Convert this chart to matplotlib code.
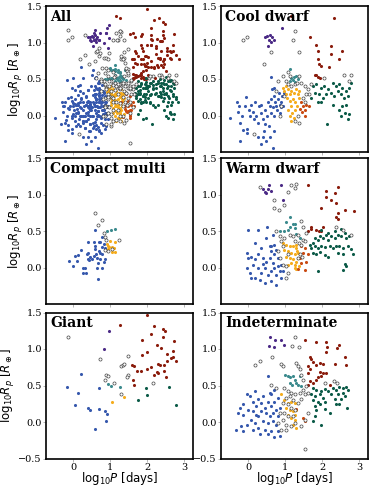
import numpy as np
import matplotlib
matplotlib.use('Agg')
import matplotlib.pyplot as plt

# colours of the classes
c_blue = '#3658ad'
c_orange = '#f5ac1c'
c_teal = '#3b8a8d'
c_green = '#0c5b48'
c_red = '#8a1c0c'
c_purple = '#4b2a86'
c_rust = '#c94a12'

# ---- Cool dwarf ----
cool_blue = [(-0.49, -0.03), (-0.29, 0.18), (-0.25, 0.13), (-0.27, 0.05), (-0.22, -0.10), (-0.16, -0.01),
             (-0.22, -0.35), (-0.13, -0.20), (-0.09, 0.13), (-0.06, 0.26), (-0.04, -0.24), (-0.02, -0.18),
             (0.02, 0.08), (0.04, -0.01), (0.09, 0.15), (0.13, 0.05), (0.16, -0.05), (0.18, 0.18),
             (0.22, -0.01), (0.27, -0.10), (0.29, 0.13), (0.34, 0.04), (0.36, 0.15), (0.40, -0.05),
             (0.43, -0.21), (0.45, 0.08), (0.46, -0.12), (0.52, -0.01), (0.54, 0.18), (0.55, -0.14),
             (0.58, 0.13), (0.61, 0.04), (0.63, 0.22), (0.63, 0.53), (0.64, 0.36), (0.67, 0.11),
             (0.70, 0.27), (0.71, 0.38), (0.71, -0.01), (0.73, 0.18), (0.76, 0.13), (0.79, 0.08),
             (0.80, 0.22), (0.82, 0.31), (0.85, 0.15), (0.86, 0.04), (0.88, 0.11), (0.89, 0.18),
             (0.91, 0.27), (0.94, 0.13), (0.96, 0.31), (0.71, -0.21), (0.58, -0.30), (0.40, -0.30),
             (0.67, -0.44), (0.49, -0.35), (0.27, -0.30), (0.34, -0.39)]
cool_orange = [(0.94, 0.38), (0.98, 0.34), (1.03, 0.30), (1.07, 0.36), (1.12, 0.29), (1.16, 0.34),
               (1.23, 0.31), (1.29, 0.36), (1.34, 0.30), (1.38, 0.34), (1.05, 0.24), (1.12, 0.20),
               (1.21, 0.22), (1.27, 0.18), (1.16, 0.13), (1.07, 0.08), (1.18, 0.04), (1.23, -0.03),
               (1.12, -0.01), (1.16, -0.08), (1.32, 0.13), (1.25, 0.08), (1.03, 0.40), (1.36, 0.24)]
cool_teal = [(1.14, 0.64), (1.16, 0.52), (1.23, 0.53), (1.29, 0.54), (1.21, 0.49), (1.34, 0.50),
             (1.12, 0.47), (1.27, 0.46)]
cool_rust = [(1.43, 0.18), (1.47, 0.13), (1.52, 0.08), (1.45, 0.05), (1.56, 0.14), (1.54, -0.01),
             (1.63, 0.13), (1.41, 0.09)]
cool_red = [(1.16, 1.36), (2.32, 1.33), (1.68, 1.07), (1.83, 0.97), (1.89, 0.88), (2.23, 0.95),
            (2.54, 0.88), (2.23, 0.84), (2.46, 0.78), (1.88, 0.77), (1.92, 0.71), (1.96, 0.68),
            (2.19, 0.66), (1.79, 0.55), (1.88, 0.53), (1.94, 0.52), (1.83, 0.56)]
cool_green = [(1.74, 0.40), (1.83, 0.43), (1.96, 0.38), (2.05, 0.40), (2.14, 0.36), (2.28, 0.45),
              (2.37, 0.40), (2.46, 0.43), (2.54, 0.38), (2.63, 0.34), (2.72, 0.38), (2.77, 0.45),
              (1.79, 0.31), (1.92, 0.29), (2.01, 0.24), (2.10, 0.29), (2.23, 0.31), (2.32, 0.27),
              (2.41, 0.34), (2.50, 0.29), (2.59, 0.24), (2.68, 0.27), (1.96, 0.18), (2.28, 0.15),
              (2.54, 0.13), (2.63, 0.15), (2.46, 0.08), (2.61, 0.04), (2.72, 0.02), (2.68, -0.05),
              (2.50, -0.01), (2.13, -0.12), (1.88, 0.18), (1.70, 0.24)]
cool_purple = [(0.45, 1.08), (0.51, 1.09), (0.60, 1.10), (0.64, 1.07), (0.56, 1.04), (0.70, 1.03),
               (0.63, 1.01), (0.54, 0.95), (0.91, 1.20)]
cool_open = [(-0.13, 1.04), (-0.02, 1.08), (0.61, 0.87), (0.43, 0.70), (1.21, 1.04), (1.27, 1.16),
             (1.36, 0.87), (0.16, -0.25), (0.94, 0.54), (1.03, 0.47), (1.07, 0.43), (1.16, 0.40),
             (1.25, 0.43), (1.32, 0.44), (1.43, 0.45), (1.52, 0.40), (1.61, 0.36), (1.65, 0.29),
             (1.56, 0.29), (1.47, 0.24), (0.98, 0.27), (0.89, 0.13), (0.85, -0.01), (1.34, -0.01),
             (1.38, -0.10), (1.25, -0.08), (1.52, 0.18), (2.05, 0.52), (2.59, 0.56), (2.77, 0.55),
             (2.72, 0.47), (0.80, 0.47), (0.76, 0.34), (1.12, 0.54), (1.07, 0.59), (1.38, 0.54),
             (1.70, 0.43)]

# ---- Compact multi ----
cm_blue = [(0.58, 0.51), (0.41, 0.35), (0.55, 0.35), (0.77, 0.42), (0.73, 0.35), (0.22, 0.24),
           (0.12, 0.17), (0.05, 0.16), (-0.10, 0.09), (0.01, 0.02), (0.10, 0.09), (0.26, 0.00),
           (0.32, 0.00), (0.35, -0.07), (0.28, -0.08), (0.41, 0.20), (0.46, 0.15), (0.55, 0.16),
           (0.62, 0.18), (0.64, 0.13), (0.69, 0.22), (0.73, 0.20), (0.77, 0.18), (0.77, 0.28),
           (0.68, 0.06), (0.73, 0.11), (0.82, 0.07), (0.86, 0.11), (0.64, 0.00), (0.77, 0.00),
           (0.67, -0.16), (0.50, 0.11), (0.44, 0.10), (0.39, 0.12), (0.59, 0.30), (0.71, 0.35),
           (0.82, 0.32), (0.87, 0.27), (0.59, 0.25), (0.37, 0.19)]
cm_orange = [(0.91, 0.32), (0.98, 0.28), (1.05, 0.28), (1.09, 0.27), (1.14, 0.35), (0.95, 0.25),
             (1.05, 0.21), (1.14, 0.21), (1.00, 0.36), (0.93, 0.29)]
cm_teal = [(0.91, 0.50), (1.02, 0.51), (1.12, 0.53)]
cm_open = [(0.58, 0.75), (0.78, 0.65), (0.68, 0.58), (0.82, 0.47), (0.86, 0.42), (0.89, 0.37),
           (1.23, 0.37), (0.85, 0.24), (0.93, 0.22), (1.05, 0.26)]

# ---- Warm dwarf ----
warm_purple = [(0.40, 1.08), (0.45, 1.04), (0.54, 1.07), (0.61, 1.05), (0.56, 1.13), (0.49, 1.02),
               (0.89, 1.13), (0.94, 0.93)]
warm_teal = [(1.03, 0.63), (1.12, 0.69), (1.14, 0.56), (1.21, 0.60), (1.07, 0.52), (0.98, 0.50),
             (1.27, 0.54), (0.85, 0.50), (1.30, 0.46), (1.25, 0.59), (1.39, 0.40)]
warm_blue = [(0.00, 0.52), (0.27, 0.52), (0.51, 0.56), (0.49, 0.40), (0.67, 0.45), (0.18, 0.34),
             (0.36, 0.27), (0.58, 0.29), (0.71, 0.31), (0.76, 0.24), (0.63, 0.22), (0.80, 0.13),
             (-0.02, 0.20), (0.00, 0.13), (0.09, 0.15), (0.18, 0.11), (0.27, 0.18), (0.40, 0.13),
             (0.49, 0.08), (0.58, 0.13), (0.67, 0.06), (0.71, -0.01), (0.80, 0.02), (0.85, -0.05),
             (0.89, 0.04), (-0.02, -0.01), (0.04, -0.08), (0.13, 0.04), (0.27, -0.01), (0.36, -0.08),
             (0.45, -0.01), (0.54, -0.10), (0.63, -0.05), (0.76, -0.10), (0.09, -0.14), (0.18, -0.14),
             (0.45, -0.21), (0.31, -0.17), (0.63, -0.19), (0.76, -0.24), (0.89, -0.14), (0.94, -0.05),
             (0.40, 0.05), (0.61, 0.30), (0.70, 0.18)]
warm_orange = [(0.94, 0.34), (1.03, 0.31), (1.12, 0.30), (1.21, 0.29), (1.29, 0.31), (0.98, 0.24),
               (1.07, 0.22), (1.16, 0.20), (1.25, 0.18), (1.03, 0.15), (1.12, 0.13), (1.21, 0.11),
               (1.29, 0.08), (1.16, 0.06), (1.25, 0.04), (1.07, 0.04), (1.32, 0.22), (1.34, 0.13),
               (1.36, 0.02), (1.30, 0.27), (1.34, 0.20), (1.25, 0.00), (1.30, -0.02)]
warm_rust = [(1.43, 0.29), (1.52, 0.27), (1.48, 0.20), (1.39, 0.13), (1.43, 0.06), (1.57, 0.08),
             (1.52, -0.03), (1.34, -0.02), (1.61, 0.18)]
warm_red = [(1.61, 1.13), (2.10, 1.05), (2.33, 1.02), (2.42, 1.10), (2.10, 0.97), (2.24, 0.92),
            (2.37, 0.88), (1.97, 0.82), (2.60, 0.79), (2.85, 0.78), (2.42, 0.75), (2.37, 0.69),
            (2.42, 0.66), (1.69, 0.53), (1.61, 0.50), (1.84, 0.52), (1.90, 0.50), (1.97, 0.50),
            (2.02, 0.56), (1.70, 0.56)]
warm_green = [(1.66, 0.31), (1.75, 0.34), (1.79, 0.40), (1.88, 0.38), (1.93, 0.43), (2.02, 0.40),
              (2.11, 0.45), (2.15, 0.38), (2.24, 0.43), (2.33, 0.40), (2.42, 0.45), (2.51, 0.43),
              (2.60, 0.47), (2.64, 0.40), (2.73, 0.43), (1.70, 0.27), (1.79, 0.29), (1.88, 0.27),
              (1.97, 0.30), (2.06, 0.28), (2.20, 0.29), (2.29, 0.27), (2.37, 0.30), (2.46, 0.29),
              (2.55, 0.27), (2.69, 0.29), (2.78, 0.26), (1.75, 0.20), (1.84, 0.18), (1.93, 0.21),
              (2.06, 0.17), (2.15, 0.14), (2.42, 0.20), (2.55, 0.18), (2.82, 0.18), (2.60, 0.05),
              (2.64, 0.02), (2.55, -0.03), (1.88, -0.05), (1.97, 0.52), (2.15, 0.47), (2.33, 0.50),
              (2.51, 0.53)]
warm_open = [(0.31, 1.10), (0.71, 0.92), (0.71, 0.82), (0.82, 0.79), (0.98, 0.86), (1.07, 1.04),
             (1.16, 1.13), (0.76, 0.50), (0.85, 0.43), (0.89, 0.36), (0.98, 0.40), (0.94, 0.29),
             (0.80, 0.22), (0.87, 0.13), (0.94, 0.04), (1.03, 0.02), (1.07, 0.18), (1.12, 0.45),
             (1.21, 0.43), (1.25, 0.36), (1.03, -0.15), (1.07, -0.08), (1.30, 1.14), (1.25, 1.09),
             (1.43, 0.64), (1.48, 0.56), (1.57, 0.47), (1.34, 0.45), (1.48, 0.38), (1.52, 0.36),
             (1.36, 0.34), (1.43, 0.31), (1.39, 0.18), (1.45, 0.15), (1.34, 0.13), (2.37, 0.55),
             (2.55, 0.52), (2.76, 0.45)]

# ---- Giant ----
giant_red = [(1.98, 1.46), (1.27, 1.33), (2.18, 1.31), (2.42, 1.28), (2.48, 1.25), (2.10, 1.20),
             (2.42, 1.16), (1.85, 1.12), (2.72, 1.11), (2.25, 1.05), (2.37, 1.02), (1.98, 0.96),
             (2.70, 0.97), (2.54, 0.93), (1.85, 0.92), (2.65, 0.87), (2.70, 0.89), (2.77, 0.83),
             (2.54, 0.83), (2.29, 0.79), (2.34, 0.78), (2.45, 0.78), (1.60, 0.78), (1.65, 0.77),
             (2.10, 0.75), (1.98, 0.72), (1.71, 0.70), (1.83, 0.70), (2.25, 0.69), (2.29, 0.67),
             (2.45, 0.70), (2.19, 0.65), (2.49, 0.61), (1.62, 0.57), (1.64, 0.51)]
giant_open = [(-0.14, 1.17), (0.73, 0.86), (1.49, 0.91), (1.29, 0.77), (1.35, 0.78), (1.38, 0.79),
              (0.88, 0.65), (0.93, 0.63), (0.85, 0.58), (1.09, 0.53), (1.49, 0.64), (1.46, 0.61),
              (1.30, 0.39), (2.14, 0.54)]
giant_purple = [(0.97, 1.24), (0.84, 1.00)]
giant_blue = [(0.21, 0.66), (-0.16, 0.48), (0.12, 0.40), (0.71, 0.47), (0.06, 0.23), (0.40, 0.19),
              (0.45, 0.16), (0.71, 0.18), (0.85, 0.15), (0.91, 0.11), (0.88, 0.01), (0.58, -0.09)]
giant_teal = [(0.94, 0.52), (1.02, 0.49), (1.25, 0.48)]
giant_green = [(1.96, 0.46), (2.59, 0.48), (1.74, 0.30), (2.00, 0.37), (2.77, 0.23)]
giant_orange = [(1.04, 0.28), (1.36, 0.34)]

# ---- Indeterminate ----
ind_purple = [(0.58, 1.17), (0.73, 1.13), (0.88, 1.13), (0.98, 1.06), (0.56, 1.04), (0.70, 1.03)]
ind_teal = [(1.00, 0.65), (1.07, 0.63), (1.14, 0.61), (1.21, 0.63), (1.25, 0.58), (1.12, 0.54),
            (1.18, 0.51), (1.29, 0.53), (1.39, 0.63), (1.34, 0.51), (1.43, 0.49)]
ind_blue = [(0.54, 0.63), (0.18, 0.42), (0.04, 0.35), (-0.04, 0.38), (0.40, 0.35), (0.58, 0.40),
            (0.71, 0.44), (0.27, 0.31), (0.13, 0.28), (-0.13, 0.24), (-0.22, 0.19), (-0.27, 0.13),
            (-0.13, 0.10), (0.00, 0.17), (0.13, 0.15), (0.22, 0.22), (0.36, 0.26), (0.45, 0.19),
            (0.54, 0.28), (0.63, 0.22), (0.71, 0.28), (0.80, 0.33), (0.76, 0.17), (0.85, 0.19),
            (0.36, 0.15), (0.49, 0.12), (0.58, 0.08), (0.67, 0.12), (0.80, 0.08), (0.27, 0.08),
            (0.09, 0.03), (0.18, -0.01), (0.40, 0.01), (0.54, -0.01), (0.67, 0.01), (0.76, -0.04),
            (-0.04, -0.04), (-0.18, -0.06), (-0.33, -0.11), (-0.13, -0.13), (0.13, -0.11),
            (0.27, -0.08), (0.45, -0.11), (0.63, -0.13), (0.80, -0.13), (0.31, -0.17), (0.54, -0.17),
            (0.71, -0.20), (0.85, -0.19), (0.22, 0.10), (0.63, 0.38)]
ind_orange = [(0.89, 0.38), (0.98, 0.30), (1.07, 0.26), (1.16, 0.28), (1.25, 0.26), (1.03, 0.19),
              (1.12, 0.17), (1.21, 0.15), (1.29, 0.17), (1.07, 0.10), (1.16, 0.06), (1.25, 0.03),
              (1.21, -0.04), (1.29, -0.08), (1.27, 0.10)]
ind_rust = [(1.30, 0.18), (1.52, 0.02), (1.47, 0.06)]
ind_red = [(1.52, 1.12), (1.84, 1.09), (2.10, 1.10), (2.13, 1.03), (2.09, 0.96), (2.45, 1.06),
           (2.40, 1.02), (2.60, 0.89), (2.64, 0.78), (2.33, 0.79), (1.66, 0.89), (1.70, 0.86),
           (1.75, 0.82), (1.61, 0.77), (1.84, 0.78), (1.93, 0.81), (2.02, 0.80), (1.66, 0.72),
           (1.61, 0.67), (1.93, 0.68), (2.02, 0.67), (2.10, 0.67), (1.97, 0.63), (1.88, 0.61),
           (1.66, 0.56), (1.61, 0.51), (1.75, 0.54), (1.84, 0.58), (2.20, 0.51)]
ind_green = [(1.75, 0.47), (1.84, 0.44), (1.97, 0.42), (2.06, 0.45), (2.15, 0.42), (2.29, 0.47),
             (2.37, 0.44), (2.46, 0.48), (2.55, 0.47), (2.64, 0.48), (2.69, 0.44), (1.70, 0.38),
             (1.79, 0.35), (1.93, 0.38), (2.02, 0.33), (2.24, 0.38), (2.42, 0.38), (2.55, 0.40),
             (2.60, 0.35), (1.75, 0.30), (1.88, 0.27), (2.06, 0.28), (2.33, 0.32), (2.51, 0.31),
             (1.79, 0.22), (1.93, 0.25), (2.37, 0.25), (2.46, 0.24), (2.67, 0.19), (1.84, 0.17),
             (2.06, 0.18), (2.20, 0.12), (1.79, 0.08), (1.75, 0.02), (1.97, -0.04)]
ind_open = [(0.18, 0.78), (0.31, 0.83), (0.64, 0.89), (0.88, 0.79), (0.94, 0.77), (1.19, 1.04),
            (0.63, 0.51), (0.76, 0.47), (0.98, 0.47), (1.07, 0.42), (1.16, 0.40), (1.25, 0.38),
            (1.03, 0.33), (1.12, 0.35), (1.21, 0.30), (0.94, 0.26), (1.07, 0.24), (1.16, 0.19),
            (1.25, 0.17), (0.98, 0.12), (1.07, 0.08), (1.21, 0.08), (0.94, 0.03), (1.03, -0.04),
            (1.16, -0.06), (1.25, -0.01), (0.85, 0.12), (0.80, -0.01), (0.89, -0.11), (1.03, -0.11),
            (1.27, 1.16), (1.36, 1.03), (1.30, 0.81), (1.34, 0.77), (1.39, 0.72), (1.43, 0.65),
            (1.48, 0.58), (1.57, 0.49), (1.48, 0.44), (1.39, 0.40), (1.52, 0.38), (1.61, 0.40),
            (1.43, 0.31), (1.34, 0.26), (2.06, 0.54), (2.31, 0.56), (2.40, 0.53), (1.54, -0.37),
            (1.61, 0.12), (1.52, 0.03), (1.43, -0.06)]

titles = ['All', 'Cool dwarf', 'Compact multi', 'Warm dwarf', 'Giant', 'Indeterminate']

cool = {'blue': cool_blue, 'orange': cool_orange, 'teal': cool_teal, 'rust': cool_rust,
        'red': cool_red, 'green': cool_green, 'purple': cool_purple, 'open': cool_open}
compact = {'blue': cm_blue, 'orange': cm_orange, 'teal': cm_teal, 'open': cm_open}
warm = {'blue': warm_blue, 'orange': warm_orange, 'teal': warm_teal, 'rust': warm_rust,
        'red': warm_red, 'green': warm_green, 'purple': warm_purple, 'open': warm_open}
giant = {'blue': giant_blue, 'orange': giant_orange, 'teal': giant_teal, 'red': giant_red,
         'green': giant_green, 'purple': giant_purple, 'open': giant_open}
indet = {'blue': ind_blue, 'orange': ind_orange, 'teal': ind_teal, 'rust': ind_rust,
         'red': ind_red, 'green': ind_green, 'purple': ind_purple, 'open': ind_open}

# "All" is just every sample together
groups = ['blue', 'orange', 'teal', 'rust', 'red', 'green', 'purple', 'open']
all_ = {g: sum([p.get(g, []) for p in [cool, compact, warm, giant, indet]], []) for g in groups}
panels = [all_, cool, compact, warm, giant, indet]

colors = {'blue': c_blue, 'orange': c_orange, 'teal': c_teal, 'rust': c_rust,
          'red': c_red, 'green': c_green, 'purple': c_purple}

plt.rcParams['font.family'] = 'DejaVu Serif'
plt.rcParams['mathtext.fontset'] = 'dejavusans'

fig = plt.figure(figsize=(3.74, 4.87), dpi=100)
W, H = 374.0, 487.0
col_left = [46, 221]
row_top = [6, 158, 312.5]
aw, ah = 147, 146

for k in range(6):
    r, c = k // 2, k % 2
    ax = fig.add_axes([col_left[c] / W, 1 - (row_top[r] + ah) / H, aw / W, ah / H])
    d = panels[k]
    for g in groups[:-1]:
        pts = np.array(d.get(g, [])).reshape(-1, 2)
        if len(pts):
            ax.scatter(pts[:, 0], pts[:, 1], s=5, color=colors[g], linewidths=0, zorder=2)
    pts = np.array(d['open']).reshape(-1, 2)
    ax.scatter(pts[:, 0], pts[:, 1], s=5, facecolor='white', edgecolor='#444444',
               linewidths=0.5, zorder=3)
    ax.set_xlim(-0.73, 3.23)
    ax.set_ylim(-0.5, 1.5)
    ax.set_xticks([0, 1, 2, 3])
    if r == 2:
        ax.set_yticks([-0.5, 0.0, 0.5, 1.0, 1.5])
        ax.set_xlabel('log$_{10}P$ [days]', family='DejaVu Sans', fontsize=8.5, labelpad=-1)
    else:
        ax.set_yticks([0.0, 0.5, 1.0, 1.5])
        ax.set_xticklabels([])
    if c == 0:
        ax.set_ylabel(r'log$_{10}R_p$ [$R_\oplus$]', family='DejaVu Sans', fontsize=8.5, labelpad=1)
    ax.tick_params(direction='out', length=2, width=0.6, color='#aaaaaa',
                   labelsize=7, pad=1)
    for sp in ax.spines.values():
        sp.set_linewidth(1.2)
    ax.text(0.03, 0.975, titles[k], transform=ax.transAxes, ha='left', va='top',
            fontsize=10, fontweight='bold')

plt.savefig('out.png', dpi=100)
